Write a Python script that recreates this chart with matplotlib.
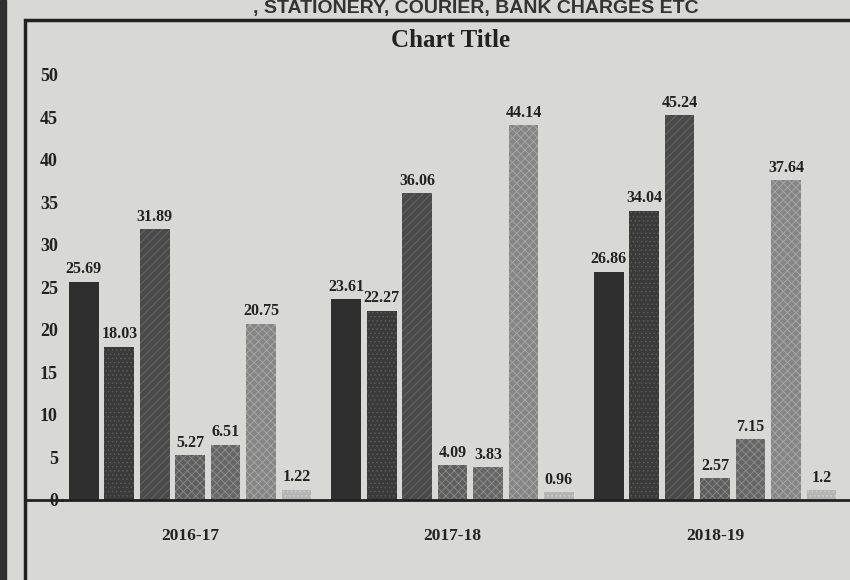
import matplotlib
matplotlib.use('Agg')
import numpy as np
import matplotlib.pyplot as plt
import matplotlib.patches as mpatches

# ── data ──────────────────────────────────────────────────────────────────
years = ['2016-17', '2017-18', '2018-19']
s1 = [25.69, 23.61, 26.86]
s2 = [18.03, 22.27, 34.04]
s3 = [31.89, 36.06, 45.24]
s4 = [5.27, 4.09, 2.57]
s5 = [6.51, 3.83, 7.15]
s6 = [20.75, 44.14, 37.64]
s7 = [1.22, 0.96, 1.2]
series = [s1, s2, s3, s4, s5, s6, s7]
y_ticks = list(range(0, 55, 5))

# fill / hatch tones (greyscale print)
FILLS   = ['#2f2f2f', '#3a3a3a', '#4a4a4a', '#5e5e5e', '#666666', '#858585', '#b4b4b4']
HATCHC  = ['#2f2f2f', '#5a5a5a', '#6a6a6a', '#8a8a8a', '#8e8e8e', '#a8a8a8', '#d0d0d0']
HATCHES = [None, '....', '////', 'xxxx', 'xxxx', 'xxxx', '....']
PAPER   = '#d8d8d6'
INK     = '#222222'
SERIF   = ['Liberation Serif', 'DejaVu Serif']

plt.rcParams['hatch.linewidth'] = 0.6

fig = plt.figure(figsize=(8.5, 5.8), dpi=100, facecolor=PAPER)
ax = fig.add_axes([0.073, 0.138, 0.927, 0.762])
ax.set_facecolor('none')

slot = 0.135
width = 0.113
x = np.arange(len(years))
for i, vals in enumerate(series):
    pos = x + (i - 3) * slot
    bars = ax.bar(pos, vals, width, color=FILLS[i], edgecolor=HATCHC[i],
                  linewidth=0, hatch=HATCHES[i], zorder=2)
    for b, v in zip(bars, vals):
        ax.text(b.get_x() + b.get_width() / 2, v + 0.5, f'{v:g}',
                ha='center', va='bottom', fontsize=11.5, fontweight='bold',
                color=INK, family=SERIF, zorder=3)

ax.set_xlim(-0.488, 2.514)
ax.set_ylim(0, 52)
ax.set_yticks(y_ticks)
ax.set_yticklabels([str(t) for t in y_ticks], family=SERIF, fontsize=13,
                   fontweight='bold', color=INK)
ax.tick_params(axis='y', length=0, pad=3)
ax.set_xticks(x)
ax.set_xticklabels(years, family=SERIF, fontsize=12.5, fontweight='bold', color=INK)
ax.tick_params(axis='x', length=0, pad=20)
for side in ['top', 'right', 'left']:
    ax.spines[side].set_visible(False)
ax.spines['bottom'].set_color(INK)
ax.spines['bottom'].set_linewidth(2)

# baseline runs back to the frame edge
fig.add_artist(plt.Line2D([25 / 850, 62 / 850], [0.138, 0.138],
                          color=INK, linewidth=2))

# chart frame
fig.add_artist(mpatches.Rectangle((25 / 850, -0.02), 1.0, 1 - 20 / 580 + 0.02,
                                  fill=False, edgecolor=INK, linewidth=2.5,
                                  transform=fig.transFigure))

# binding strip at the left edge of the page
fig.add_artist(mpatches.Rectangle((0, 0), 6 / 850, 1, color='#303030',
                                  transform=fig.transFigure))

fig.text(0.53, 0.93, 'Chart Title', ha='center', va='center', fontsize=18,
         fontweight='bold', family=SERIF, color=INK)
fig.text(0.56, 1.0, ', STATIONERY, COURIER, BANK CHARGES ETC', ha='center',
         va='top', fontsize=14, fontweight='bold', color='#333333',
         family=['Liberation Sans', 'DejaVu Sans'])

fig.savefig('out.png', dpi=100, facecolor=PAPER)
